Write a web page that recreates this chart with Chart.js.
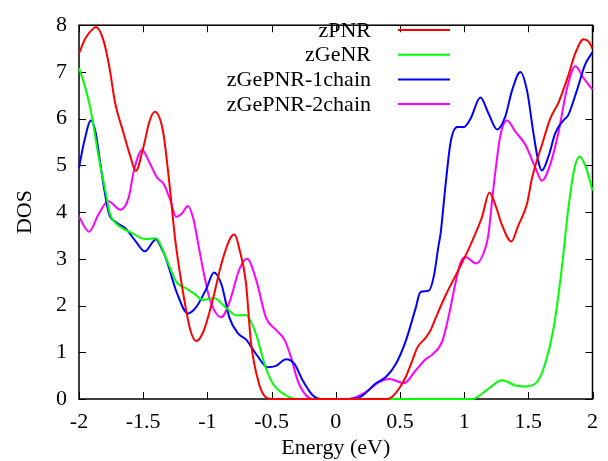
<!DOCTYPE html>
<html>
<head>
<meta charset="utf-8">
<script src="https://cdn.jsdelivr.net/npm/chart.js@4.4.1/dist/chart.umd.min.js"></script>
<style>
html,body{margin:0;padding:0;background:#fff;}
#wrap{width:608px;height:461px;}
</style>
</head>
<body>
<div id="wrap"><canvas id="c" width="608" height="461"></canvas></div>
<script>
// ---- data ----
const seriesNames = ["zPNR", "zGeNR", "zGePNR-1chain", "zGePNR-2chain"];
const seriesColors = ["#ff0000", "#00ff00", "#0000ff", "#ff00ff"];

const xTicks = [-2, -1.5, -1, -0.5, 0, 0.5, 1, 1.5, 2];
const yTicks = [0, 1, 2, 3, 4, 5, 6, 7, 8];

const zpnrE = [-2.00,-1.95,-1.90,-1.868,-1.81,-1.76,-1.72,-1.656,-1.604,-1.557,-1.50,-1.45,-1.41,-1.345,-1.29,-1.25,-1.177,-1.13,-1.086,-1.03,-0.96,-0.89,-0.82,-0.788,-0.75,-0.70,-0.66,-0.60,-0.55,-0.50,0.40,0.44,0.50,0.545,0.60,0.635,0.70,0.74,0.778,0.856,0.959,1.05,1.14,1.197,1.25,1.29,1.368,1.42,1.49,1.53,1.606,1.671,1.736,1.81,1.866,1.93,1.97,2.00];
const zpnrD = [7.40,7.72,7.90,7.96,7.68,7.05,6.35,5.72,5.23,4.88,5.37,5.95,6.15,5.72,4.46,3.40,2.08,1.45,1.24,1.45,2.10,2.90,3.45,3.52,3.20,2.50,1.20,0.35,0.05,0.00,0.00,0.05,0.25,0.47,0.85,1.10,1.31,1.48,1.73,2.22,2.78,3.30,3.90,4.42,4.10,3.76,3.37,3.70,4.18,4.74,5.44,6.00,6.35,6.91,7.40,7.70,7.65,7.50];

const zgenrE = [-2.00,-1.96,-1.91,-1.85,-1.79,-1.76,-1.72,-1.66,-1.586,-1.48,-1.40,-1.32,-1.24,-1.16,-1.10,-1.035,-0.95,-0.853,-0.775,-0.70,-0.66,-0.62,-0.555,-0.49,-0.39,-0.30,1.05,1.09,1.19,1.296,1.40,1.477,1.567,1.63,1.697,1.76,1.81,1.86,1.90,1.95,2.00];
const zgenrD = [7.08,6.75,6.20,5.23,4.39,3.97,3.78,3.65,3.55,3.42,3.44,3.00,2.50,2.36,2.25,2.12,2.16,1.95,1.79,1.80,1.65,1.38,0.75,0.33,0.08,0.00,0.00,0.02,0.22,0.40,0.29,0.27,0.36,0.75,1.52,2.78,4.04,4.95,5.19,4.95,4.46];

const chain1E = [-2.00,-1.96,-1.907,-1.87,-1.837,-1.806,-1.767,-1.715,-1.637,-1.56,-1.487,-1.40,-1.353,-1.32,-1.24,-1.151,-1.086,-1.008,-0.949,-0.89,-0.827,-0.763,-0.698,-0.62,-0.53,-0.465,-0.387,-0.322,-0.258,-0.18,-0.12,0.10,0.196,0.31,0.39,0.468,0.545,0.622,0.66,0.726,0.765,0.80,0.817,0.856,0.895,0.946,0.998,1.05,1.127,1.19,1.257,1.32,1.373,1.438,1.49,1.54,1.58,1.606,1.658,1.71,1.775,1.81,1.878,1.943,2.00];
const chain1D = [4.95,5.50,5.96,5.70,5.09,4.53,3.97,3.79,3.65,3.38,3.16,3.42,3.20,2.99,2.29,1.83,1.97,2.36,2.71,2.45,1.73,1.41,1.27,0.96,0.68,0.71,0.85,0.75,0.40,0.08,0.00,0.00,0.05,0.33,0.47,0.75,1.24,1.94,2.29,2.32,2.64,3.27,3.55,4.60,5.50,5.82,5.82,6.00,6.45,6.11,5.77,6.04,6.60,7.00,6.60,5.69,5.06,4.89,5.20,5.69,5.97,6.07,6.60,7.16,7.42];

const chain2E = [-2.00,-1.922,-1.845,-1.772,-1.676,-1.612,-1.573,-1.508,-1.456,-1.392,-1.34,-1.288,-1.244,-1.198,-1.151,-1.107,-1.068,-1.034,-0.983,-0.892,-0.827,-0.75,-0.69,-0.62,-0.542,-0.465,-0.40,-0.348,-0.297,-0.232,-0.18,0.10,0.235,0.338,0.416,0.532,0.622,0.70,0.752,0.83,0.882,0.934,0.972,1.011,1.094,1.153,1.187,1.22,1.244,1.283,1.334,1.40,1.477,1.555,1.606,1.671,1.736,1.80,1.866,1.93,2.00];
const chain2D = [3.90,3.58,3.97,4.23,4.05,4.32,4.88,5.33,5.09,4.74,4.60,4.25,3.90,3.97,4.13,3.83,3.27,2.78,2.15,1.75,2.08,2.78,3.00,2.55,1.73,1.48,1.27,0.89,0.40,0.08,0.00,0.00,0.15,0.36,0.43,0.34,0.61,0.85,0.95,1.24,1.80,2.50,2.92,3.04,2.90,3.13,3.48,4.30,4.88,5.65,5.96,5.72,5.44,4.95,4.67,5.02,5.72,6.63,7.12,6.87,6.62];

const seriesE = [zpnrE, zgenrE, chain1E, chain2E];
const seriesD = [zpnrD, zgenrD, chain1D, chain2D];

// ---- chart ----
const FONT = "'Liberation Serif', 'Times New Roman', serif";
const TICKFS = 22;

function pts(E, D) { return E.map((e, i) => ({ x: e, y: D[i] })); }

const datasets = seriesNames.map((n, i) => ({
  label: n,
  data: pts(seriesE[i], seriesD[i]),
  borderColor: seriesColors[i],
  backgroundColor: seriesColors[i],
  borderWidth: 2,
  pointRadius: 0,
  fill: false,
  cubicInterpolationMode: 'monotone',
  clip: false
}));

const framePlugin = {
  id: 'frame',
  beforeDatasetsDraw(chart) {
    const { ctx, chartArea: a, scales } = chart;
    ctx.save();
    ctx.strokeStyle = '#000';
    ctx.lineWidth = 1.5;
    ctx.strokeRect(a.left, a.top, a.right - a.left, a.bottom - a.top);
    ctx.lineWidth = 1;
    const tl = 7;
    ctx.beginPath();
    xTicks.forEach(v => {
      const x = Math.round(scales.x.getPixelForValue(v)) + 0.5;
      ctx.moveTo(x, a.bottom); ctx.lineTo(x, a.bottom - tl);
      ctx.moveTo(x, a.top); ctx.lineTo(x, a.top + tl);
    });
    yTicks.forEach(v => {
      const y = Math.round(scales.y.getPixelForValue(v)) + 0.5;
      ctx.moveTo(a.left, y); ctx.lineTo(a.left + tl, y);
      ctx.moveTo(a.right, y); ctx.lineTo(a.right - tl, y);
    });
    ctx.stroke();
    ctx.restore();
  },
  afterDatasetsDraw(chart) {
    const { ctx } = chart;
    ctx.save();
    ctx.font = TICKFS + 'px ' + FONT;
    ctx.textAlign = 'right';
    ctx.textBaseline = 'middle';
    const textRight = 371, lx0 = 398, lx1 = 450, y0 = 30, dy = 24.7;
    chart.data.datasets.forEach((ds, i) => {
      const y = y0 + i * dy;
      ctx.fillStyle = '#000';
      ctx.fillText(ds.label, textRight, y + 1);
      ctx.strokeStyle = ds.borderColor;
      ctx.lineWidth = 2;
      ctx.beginPath();
      ctx.moveTo(lx0, y); ctx.lineTo(lx1, y);
      ctx.stroke();
    });
    ctx.restore();
  }
};

new Chart(document.getElementById('c'), {
  type: 'line',
  data: { datasets },
  plugins: [framePlugin],
  options: {
    responsive: false,
    animation: false,
    layout: { padding: { left: 0, right: 14, top: 18, bottom: 0 } },
    plugins: { legend: { display: false }, tooltip: { enabled: false } },
    scales: {
      x: {
        type: 'linear',
        min: -2, max: 2,
        afterBuildTicks(s) { s.ticks = xTicks.map(v => ({ value: v })); },
        afterFit(s) { s.height = 62; },
        grid: { display: false, drawTicks: false },
        border: { display: false },
        ticks: {
          color: '#000',
          font: { family: FONT, size: TICKFS },
          padding: 10,
          maxRotation: 0,
          autoSkip: false,
          callback: v => (Math.abs(v) < 1e-9 ? '0' : String(v))
        },
        title: {
          display: true, text: 'Energy (eV)', color: '#000',
          font: { family: FONT, size: TICKFS },
          padding: { top: 0, bottom: 0 }
        }
      },
      y: {
        type: 'linear',
        min: 0, max: 8,
        afterBuildTicks(s) { s.ticks = yTicks.map(v => ({ value: v })); },
        afterFit(s) { s.width = 79; },
        grid: { display: false, drawTicks: false },
        border: { display: false },
        ticks: {
          color: '#000',
          font: { family: FONT, size: TICKFS },
          padding: 12,
          autoSkip: false,
          callback: v => String(v)
        },
        title: {
          display: true, text: 'DOS', color: '#000',
          font: { family: FONT, size: TICKFS },
          padding: { top: 12, bottom: 0 }
        }
      }
    }
  }
});
</script>
</body>
</html>
